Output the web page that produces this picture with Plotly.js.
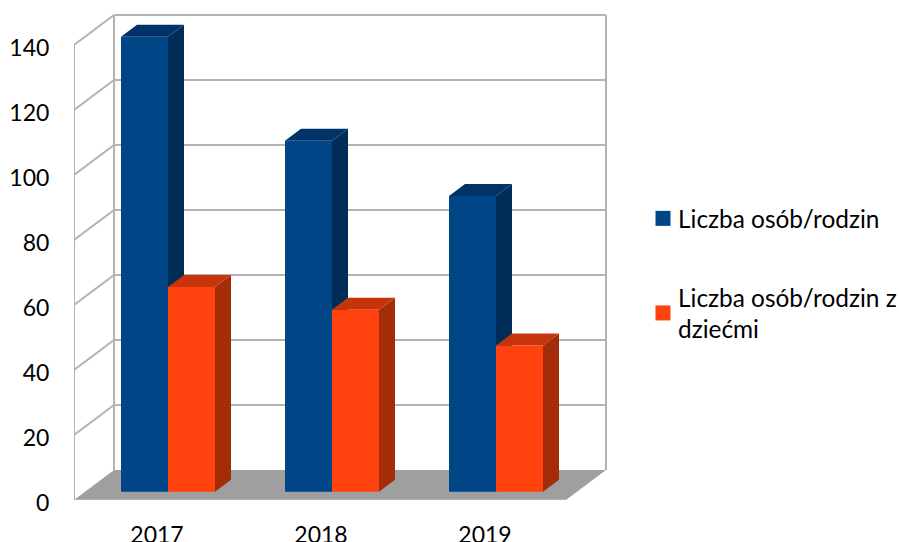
<!DOCTYPE html>
<html><head><meta charset="utf-8">
<script src="https://cdn.plot.ly/plotly-3.0.1.min.js"></script>
<style>html,body{margin:0;padding:0;background:#fff}</style></head>
<body><div id="chart" style="width:899px;height:542px"></div>
<script>
const categories = ['2017','2018','2019'];
const seriesNames = ['Liczba osób/rodzin','Liczba osób/rodzin z<br>dziećmi'];
const osoby = [140,108,91];
const zDziecmi = [63,56,45];
const yTicks = [0,20,40,60,80,100,120,140];

const W=899,H=542;
const pxLeft=74,pxRight=640,pxBottom=500,pxTop=0;
const pxPerCat=164,pxPerVal=3.25,catPx0=157;
const xs=categories.map((_,i)=>i);
const dx=p=>p/pxPerCat, dy=p=>p/pxPerVal;
const wallColor='#b3b3b3', floorColor='#9f9f9f';
const depthX=dx(40), depthY=dy(30);       // chart-box depth
const barInY=dy(8.3);                     // bar front plane inside the box
const barDX=dx(16), barDY=dy(12);         // bar depth
const barW=dx(47);
const offs=[dx(121-catPx0), dx(168-catPx0)];
const xL=(pxLeft-catPx0)/pxPerCat, xR=(566-catPx0)/pxPerCat;

const poly=(pts,fill)=>({type:'path',xref:'x',yref:'y',layer:'below',
  path:'M'+pts.map(p=>p[0]+','+p[1]).join('L')+'Z',fillcolor:fill,line:{width:0}});
const seg=(x0,y0,x1,y1)=>({type:'line',xref:'x',yref:'y',layer:'below',x0,y0,x1,y1,line:{color:wallColor,width:2}});

const shapes=[];
shapes.push(poly([[xL,0],[xR,0],[xR+depthX,depthY],[xL+depthX,depthY]],floorColor));
shapes.push(seg(xL,0,xL,140));
shapes.push(seg(xL+depthX,depthY,xL+depthX,140+depthY));
shapes.push(seg(xR+depthX,depthY,xR+depthX,140+depthY));
shapes.push(seg(xL,0,xR,0));
yTicks.forEach(v=>{
  if(v>0){shapes.push(seg(xL,v,xL+depthX,v+depthY));
  shapes.push(seg(xL+depthX,v+depthY,xR+depthX,v+depthY));}
});
const faces=[[osoby,0,'#003469','#002d58'],[zDziecmi,1,'#c5340a','#a32c09']];
faces.forEach(([vals,k,topC,sideC])=>{
  vals.forEach((v,i)=>{
    const l=xs[i]+offs[k], r=l+barW, b=barInY, t=barInY+v;
    shapes.push(poly([[r,b],[r+barDX,b+barDY],[r+barDX,t+barDY],[r,t]],sideC));
    shapes.push(poly([[l,t],[r,t],[r+barDX,t+barDY],[l+barDX,t+barDY]],topC));
  });
});

const bar=(vals,k,color)=>({type:'bar',x:xs,y:vals,base:barInY,width:barW,offset:offs[k],
  marker:{color:color,line:{width:0}},showlegend:false,name:seriesNames[k]});
const key=(k,color)=>({type:'scatter',mode:'markers',x:[null],y:[null],name:seriesNames[k],legendgroup:'s'+k,
  marker:{symbol:'square',size:15,color:color,line:{width:0}}});

const data=[bar(osoby,0,'#004586'),bar(zDziecmi,1,'#ff420e'),key(0,'#004586'),key(1,'#ff420e')];
const tickFont={family:'Lato, Carlito, sans-serif',size:23,color:'#000'};
const legendFont={family:'Lato, Carlito, sans-serif',size:24.4,color:'#000'};
const layout={width:W,height:H,paper_bgcolor:'#fff',plot_bgcolor:'#fff',font:tickFont,hovermode:false,
  barmode:'overlay',
  margin:{l:pxLeft,r:W-pxRight,t:pxTop,b:H-pxBottom,pad:0,autoexpand:false},
  xaxis:{type:'linear',range:[(pxLeft-catPx0)/pxPerCat,(pxRight-catPx0)/pxPerCat],tickmode:'array',tickvals:xs,ticktext:categories,
    showgrid:false,zeroline:false,showline:false,ticks:'outside',ticklen:14,tickcolor:'rgba(0,0,0,0)',tickfont:tickFont},
  yaxis:{range:[0,(pxBottom-pxTop)/pxPerVal],tickmode:'array',tickvals:yTicks,ticktext:yTicks.map(String),
    showgrid:false,zeroline:false,showline:false,ticks:'outside',ticklen:19,tickcolor:'rgba(0,0,0,0)',tickfont:tickFont,ticklabelshift:3},
  shapes:shapes,
  legend:{xref:'container',yref:'container',x:638/W,y:1-196/H,xanchor:'left',yanchor:'top',font:legendFont,
    traceorder:'grouped',tracegroupgap:44,bgcolor:'rgba(0,0,0,0)',borderwidth:0}
};
Plotly.newPlot('chart',data,layout,{displayModeBar:false,staticPlot:true}).then(()=>{
  document.querySelectorAll('.legend .legendsymbols').forEach(g=>g.setAttribute('transform','translate(5,0)'));
});
</script></body></html>
